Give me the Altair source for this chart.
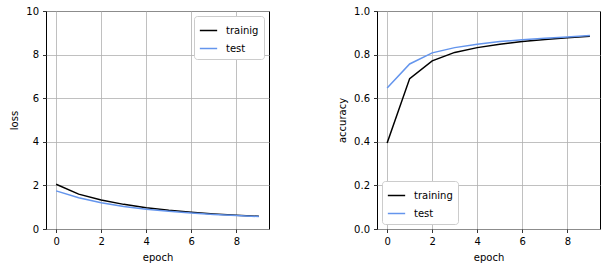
import altair as alt
import pandas as pd

epochs = [0, 1, 2, 3, 4, 5, 6, 7, 8, 9]
train_loss = [2.05, 1.60, 1.33, 1.13, 0.98, 0.86, 0.77, 0.69, 0.63, 0.58]
test_loss = [1.75, 1.43, 1.20, 1.03, 0.91, 0.81, 0.73, 0.67, 0.62, 0.57]
train_acc = [0.395, 0.690, 0.771, 0.810, 0.832, 0.848, 0.860, 0.869, 0.877, 0.884]
test_acc = [0.647, 0.757, 0.808, 0.832, 0.848, 0.860, 0.868, 0.875, 0.881, 0.888]

loss_labels = ["trainig", "test"]
acc_labels = ["training", "test"]
loss_ticks = [0, 2, 4, 6, 8, 10]
acc_ticks = [0.0, 0.2, 0.4, 0.6, 0.8, 1.0]
x_ticks = [0, 2, 4, 6, 8]

loss_df = pd.DataFrame(
    {"epoch": epochs * 2, "value": train_loss + test_loss,
     "series": [loss_labels[0]] * 10 + [loss_labels[1]] * 10}
)
acc_df = pd.DataFrame(
    {"epoch": epochs * 2, "value": train_acc + test_acc,
     "series": [acc_labels[0]] * 10 + [acc_labels[1]] * 10}
)

FONT = "DejaVu Sans"
W, H = 223, 218


def panel(df, labels, ytitle, ydomain, yticks, yfmt, legend_orient):
    x = alt.X("epoch:Q", title="epoch",
              scale=alt.Scale(domain=[-0.45, 9.45], nice=False, zero=False),
              axis=alt.Axis(values=x_ticks, format="d"))
    y = alt.Y("value:Q", title=ytitle,
              scale=alt.Scale(domain=ydomain, nice=False),
              axis=alt.Axis(values=yticks, format=yfmt))
    color = alt.Color(
        "series:N",
        scale=alt.Scale(domain=labels, range=["#000000", "#6495ED"]),
        sort=labels,
        legend=alt.Legend(
            title=None, orient=legend_orient, symbolType="stroke",
            symbolSize=300, symbolStrokeWidth=1.5, labelFont=FONT,
            labelFontSize=10, labelColor="#000000", fillColor="white",
            strokeColor="#cccccc", padding=5, cornerRadius=3,
            offset=5, rowPadding=3, labelOffset=8,
        ),
    )
    return (
        alt.Chart(df)
        .mark_line(strokeWidth=1.5)
        .encode(x=x, y=y, color=color)
        .properties(width=W, height=H)
    )


left = panel(loss_df, loss_labels, "loss", [0, 10], loss_ticks, "d", "top-right")
right = panel(acc_df, acc_labels, "accuracy", [0, 1], acc_ticks, ".1f", "bottom-left")

chart = (
    alt.hconcat(left, right, spacing=67)
    .resolve_scale(color="independent")
    .resolve_legend(color="independent")
    .properties(padding={"left": 9, "top": 5, "right": 5, "bottom": 5}, background="white")
    .configure_view(stroke="#000000", strokeWidth=1)
    .configure_axis(
        grid=True, gridColor="#b0b0b0", gridWidth=0.8,
        domain=False, tickColor="#000000", tickSize=3.5, tickWidth=0.8,
        labelFont=FONT, labelFontSize=10, labelColor="#000000", labelPadding=4,
        titleFont=FONT, titleFontSize=10, titleFontWeight="normal",
        titleColor="#000000", titlePadding=6,
    )
)

chart.save("out.html", embed_options={"renderer": "svg", "actions": False})
